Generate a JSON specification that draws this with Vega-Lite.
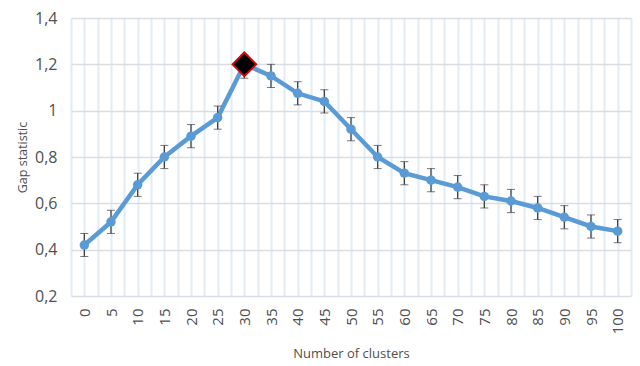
{
  "$schema": "https://vega.github.io/schema/vega-lite/v6.json",
  "width": 560,
  "height": 278,
  "autosize": {"type": "none"},
  "padding": {"left": 71, "top": 18, "right": 9, "bottom": 70},
  "background": "white",
  "config": {"view": {"stroke": null}, "font": "Open Sans"},
  "data": {"values": [
    {"k": 0, "gap": 0.42, "lo": 0.37, "hi": 0.47},
    {"k": 5, "gap": 0.52, "lo": 0.47, "hi": 0.57},
    {"k": 10, "gap": 0.68, "lo": 0.63, "hi": 0.73},
    {"k": 15, "gap": 0.80, "lo": 0.75, "hi": 0.85},
    {"k": 20, "gap": 0.89, "lo": 0.84, "hi": 0.94},
    {"k": 25, "gap": 0.97, "lo": 0.92, "hi": 1.02},
    {"k": 30, "gap": 1.20, "lo": 1.14, "hi": 1.24},
    {"k": 35, "gap": 1.15, "lo": 1.10, "hi": 1.20},
    {"k": 40, "gap": 1.075, "lo": 1.025, "hi": 1.125},
    {"k": 45, "gap": 1.04, "lo": 0.99, "hi": 1.09},
    {"k": 50, "gap": 0.92, "lo": 0.87, "hi": 0.97},
    {"k": 55, "gap": 0.80, "lo": 0.75, "hi": 0.85},
    {"k": 60, "gap": 0.73, "lo": 0.68, "hi": 0.78},
    {"k": 65, "gap": 0.70, "lo": 0.65, "hi": 0.75},
    {"k": 70, "gap": 0.67, "lo": 0.62, "hi": 0.72},
    {"k": 75, "gap": 0.63, "lo": 0.58, "hi": 0.68},
    {"k": 80, "gap": 0.61, "lo": 0.56, "hi": 0.66},
    {"k": 85, "gap": 0.58, "lo": 0.53, "hi": 0.63},
    {"k": 90, "gap": 0.54, "lo": 0.49, "hi": 0.59},
    {"k": 95, "gap": 0.50, "lo": 0.45, "hi": 0.55},
    {"k": 100, "gap": 0.48, "lo": 0.43, "hi": 0.53}
  ]},
  "encoding": {
    "x": {
      "field": "k", "type": "quantitative",
      "scale": {"domain": [-2.5, 102.5], "nice": false, "zero": false},
      "axis": {
        "values": [-2.5, 0, 2.5, 5, 7.5, 10, 12.5, 15, 17.5, 20, 22.5, 25, 27.5, 30, 32.5, 35, 37.5, 40, 42.5, 45, 47.5, 50, 52.5, 55, 57.5, 60, 62.5, 65, 67.5, 70, 72.5, 75, 77.5, 80, 82.5, 85, 87.5, 90, 92.5, 95, 97.5, 100, 102.5],
        "labelExpr": "datum.value % 5 == 0 ? datum.label : ''",
        "labelAngle": -90,
        "labelFontSize": 15,
        "labelColor": "#505050",
        "labelPadding": 12,
        "ticks": false,
        "domain": false,
        "grid": true,
        "gridColor": "#e2ecf7",
        "gridWidth": 2,
        "title": "Number of clusters",
        "titleFontSize": 13,
        "titleFontWeight": "normal",
        "titleColor": "#505050",
        "titlePadding": 14
      }
    }
  },
  "layer": [
    {
      "mark": {"type": "line", "color": "#5B9BD5", "strokeWidth": 4.5},
      "encoding": {
        "y": {
          "field": "gap", "type": "quantitative", "title": "Gap statistic",
          "scale": {"domain": [0.2, 1.4], "nice": false, "zero": false},
          "axis": {
            "values": [0.2, 0.4, 0.6, 0.8, 1.0, 1.2, 1.4],
            "labelExpr": "replace(format(datum.value, '.1~f'), '.', ',')",
            "labelFontSize": 16,
            "labelColor": "#505050",
            "labelPadding": 14,
            "ticks": false,
            "domain": false,
            "grid": true,
            "gridColor": "#d9dde3",
            "gridWidth": 1.5,
            "titleFontSize": 12.5,
            "titleFontWeight": "normal",
            "titleColor": "#505050",
            "titlePadding": 5
          }
        }
      }
    },
    {
      "mark": {"type": "errorbar", "ticks": {"size": 8, "color": "#404040", "strokeWidth": 1.3}, "rule": {"color": "#404040", "strokeWidth": 1.3}},
      "encoding": {
        "y": {"field": "lo", "type": "quantitative", "title": "Gap statistic"},
        "y2": {"field": "hi"}
      }
    },
    {
      "mark": {"type": "point", "filled": true, "size": 90, "color": "#5B9BD5", "opacity": 1},
      "encoding": {"y": {"field": "gap", "type": "quantitative", "title": "Gap statistic"}}
    },
    {
      "transform": [{"filter": "datum.k == 30"}],
      "mark": {"type": "point", "shape": "diamond", "filled": true, "size": 560, "fill": "black", "stroke": "#e00000", "strokeWidth": 2, "opacity": 1},
      "encoding": {"y": {"field": "gap", "type": "quantitative", "title": "Gap statistic"}}
    }
  ]
}
